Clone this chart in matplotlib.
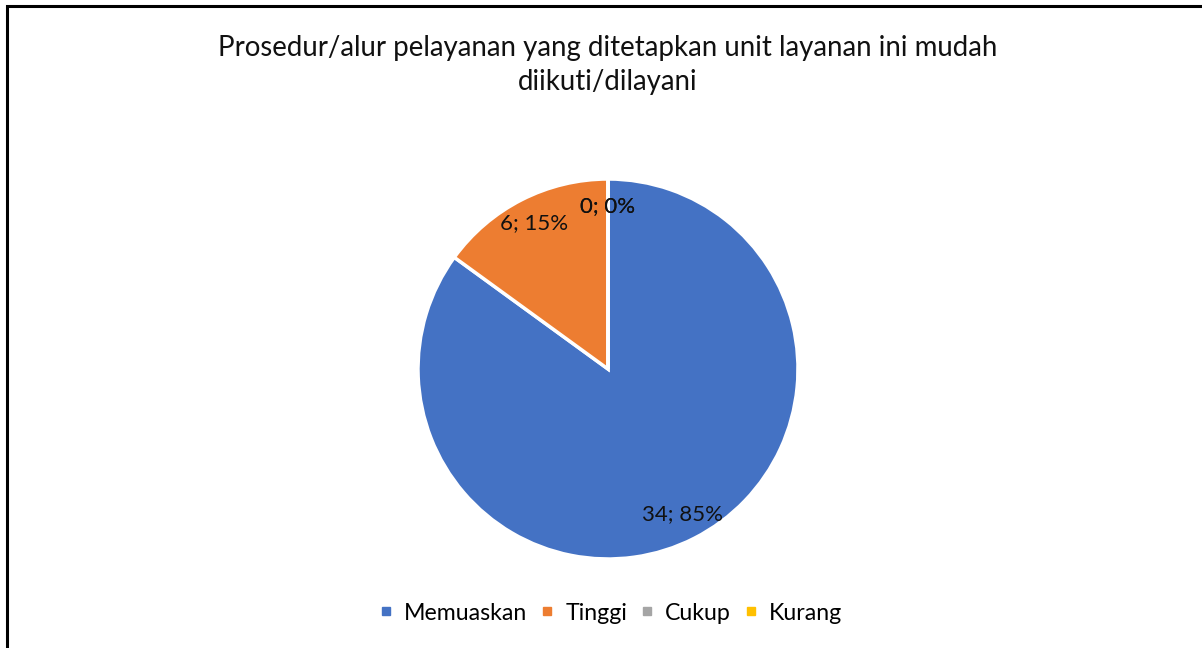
import matplotlib
matplotlib.use("Agg")
import matplotlib.pyplot as plt
from matplotlib.lines import Line2D
from matplotlib.patches import Rectangle

categories = ["Memuaskan", "Tinggi", "Cukup", "Kurang"]
values = [34, 6, 0, 0]
colors = ["#4472C4", "#ED7D31", "#A5A5A5", "#FFC000"]
title = "Prosedur/alur pelayanan yang ditetapkan unit layanan ini mudah\ndiikuti/dilayani"

plt.rcParams['font.family'] = ['Lato', 'DejaVu Sans']

W, H = 1202, 648
fig = plt.figure(figsize=(W / 100, H / 100), dpi=100)

# outer frame (cut off on right and bottom)
fig.patches.append(Rectangle((6.5 / W, -0.1), 1.2, 1 - 6.5 / H + 0.1,
                             transform=fig.transFigure, fill=False,
                             edgecolor="black", linewidth=2.2))

ax = fig.add_axes([418 / W, (H - 559) / H, 380 / W, 380 / H])
total = sum(values)


def fmt(pct):
    v = int(round(pct * total / 100))
    return "%d; %d%%" % (v, round(pct))


wedges, texts, autotexts = ax.pie(values, colors=colors, startangle=90,
                                  counterclock=False, autopct=fmt,
                                  pctdistance=0.86,
                                  wedgeprops=dict(edgecolor="white", linewidth=2.5),
                                  textprops=dict(fontsize=16, color="#111111"))
ax.set_xlim(-1, 1)
ax.set_ylim(-1, 1)
ax.set_aspect("equal")
ax.axis("off")

fig.text(608 / W, 1 - 65 / H, title, ha="center", va="center",
         fontsize=19.9, color="#111111", linespacing=1.4)

handles = [Line2D([], [], marker="s", linestyle="none", markersize=6,
                  markerfacecolor=c, markeredgecolor=c) for c in colors]
fig.legend(handles, categories, loc="center", bbox_to_anchor=(610 / W, 1 - 613 / H),
           ncol=4, frameon=False, fontsize=16.7, handlelength=0.7,
           handletextpad=0.43, columnspacing=0.5)

fig.savefig("out.png", dpi=100)
